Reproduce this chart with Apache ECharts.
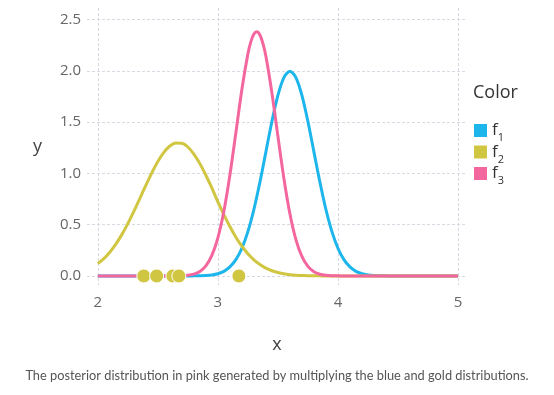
<!DOCTYPE html>
<html>
<head>
<meta charset="utf-8">
<script src="https://cdn.jsdelivr.net/npm/echarts@6/dist/echarts.min.js"></script>
<style>html,body{margin:0;padding:0;background:#fff;}#c{width:554px;height:395px;}</style>
</head>
<body>
<div id="c"></div>
<script>
const xs = [2.00,2.05,2.10,2.15,2.20,2.25,2.30,2.35,2.40,2.45,2.50,2.55,2.60,2.65,2.70,2.75,2.80,2.85,2.90,2.95,
  3.00,3.05,3.10,3.15,3.20,3.25,3.30,3.35,3.40,3.45,3.50,3.55,3.60,3.65,3.70,3.75,3.80,3.85,3.90,3.95,
  4.00,4.05,4.10,4.15,4.20,4.25,4.30,4.35,4.40,4.45,4.50,4.55,4.60,4.65,4.70,4.75,4.80,4.85,4.90,4.95,5.00];
const f1 = [0,0,0,0,0,0,0,0,0,0,0,0,0,0,0,0,0.001,0.002,0.004,0.010,
  0.022,0.045,0.088,0.159,0.270,0.432,0.648,0.913,1.210,1.506,1.761,1.934,1.995,1.934,1.761,1.506,1.210,0.913,0.648,0.432,
  0.270,0.159,0.088,0.045,0.022,0.010,0.004,0.002,0.001,0,0,0,0,0,0,0,0,0,0,0,0];
const f2 = [0.120,0.169,0.232,0.310,0.403,0.510,0.629,0.755,0.883,1.005,1.115,1.204,1.267,1.297,1.294,1.257,1.188,1.095,0.982,0.858,
  0.722,0.598,0.482,0.378,0.290,0.216,0.157,0.111,0.076,0.051,0.034,0.021,0.013,0.008,0.005,0.003,0.002,0.001,0,0,
  0,0,0,0,0,0,0,0,0,0,0,0,0,0,0,0,0,0,0,0,0];
const f3x = [2.00,2.05,2.10,2.15,2.20,2.25,2.30,2.35,2.40,2.45,2.50,2.55,2.60,2.65,2.70,2.75,2.80,2.85,2.90,2.95,
  3.00,3.05,3.10,3.15,3.20,3.25,3.275,3.30,3.325,3.35,3.375,3.40,3.45,3.50,3.55,3.60,3.65,3.70,3.75,3.80,3.85,3.90,3.95,
  4.00,4.05,4.10,4.15,4.20,4.25,4.30,4.35,4.40,4.45,4.50,4.55,4.60,4.65,4.70,4.75,4.80,4.85,4.90,4.95,5.00];
const f3 = [0,0,0,0,0,0,0,0,0,0,0,0,0,0.001,0.002,0.007,0.018,0.044,0.098,0.200,
  0.372,0.631,0.982,1.397,1.818,2.165,2.284,2.358,2.380,2.349,2.268,2.142,1.786,1.363,0.951,0.607,0.355,0.190,0.093,0.041,0.017,0.006,0.002,
  0.001,0,0,0,0,0,0,0,0,0,0,0,0,0,0,0,0,0,0,0,0];
const obsX = [2.383, 2.49, 2.625, 2.675, 3.175];
const obsY = [0, 0, 0, 0, 0];
const xTicks = [2, 3, 4, 5];
const yTicks = [0, 0.5, 1.0, 1.5, 2.0, 2.5];
const seriesNames = ['f1', 'f2', 'f3'];
const colors = ['#1cb6ec', '#d0c641', '#f4669e'];
const caption = 'The posterior distribution in pink generated by multiplying the blue and gold distributions.';

const zip = (a, b) => a.map((v, i) => [v, b[i]]);
const seriesData = [zip(xs, f1), zip(xs, f2), zip(f3x, f3)];

const chart = echarts.init(document.getElementById('c'), null, {renderer: 'canvas'});
const gridLine = {show: true, lineStyle: {color: '#d9d9e3', width: 1, type: [3, 2]}};
chart.setOption({
  animation: false,
  textStyle: {fontFamily: 'Open Sans'},
  grid: {left: 87, right: 87, top: 8, bottom: 110, containLabel: false},
  title: {text: 'Color', left: 473, top: 84, padding: 0,
    textStyle: {fontSize: 18, fontWeight: 'normal', color: '#333', fontFamily: 'Open Sans'}},
  legend: {
    data: seriesNames, orient: 'vertical', left: 474, top: 122, padding: 0, itemGap: 0,
    itemWidth: 13, itemHeight: 13, icon: 'rect',
    formatter: n => '{a|' + n.charAt(0) + '}{b|' + n.slice(1) + '}',
    textStyle: {rich: {
      a: {fontSize: 17, lineHeight: 26, color: '#333', fontFamily: 'Open Sans', verticalAlign: 'middle'},
      b: {fontSize: 11, lineHeight: 12, color: '#333', fontFamily: 'Open Sans', verticalAlign: 'bottom'}
    }}
  },
  xAxis: {
    type: 'value', min: 1.91, max: 5.075,
    name: 'x', nameLocation: 'middle', nameGap: 51,
    nameTextStyle: {fontSize: 18, color: '#444', fontFamily: 'Open Sans'},
    axisLine: {show: false},
    axisTick: {show: false, customValues: xTicks},
    axisLabel: {customValues: xTicks, margin: 10, fontSize: 15, color: '#666', formatter: v => String(v)},
    splitLine: gridLine
  },
  yAxis: {
    type: 'value', min: -0.088, max: 2.612,
    name: 'y', nameLocation: 'middle', nameGap: 45, nameRotate: 0,
    nameTextStyle: {fontSize: 18, color: '#444', fontFamily: 'Open Sans', padding: [16, 0, 0, 0]},
    axisLine: {show: false},
    axisTick: {show: false, customValues: yTicks},
    axisLabel: {customValues: yTicks, margin: 6, fontSize: 15, color: '#666', formatter: v => v.toFixed(1)},
    splitLine: gridLine
  },
  series: seriesNames.map((n, i) => ({
    name: n, type: 'line', data: seriesData[i], showSymbol: false, smooth: 0.3,
    lineStyle: {color: colors[i], width: 3}, itemStyle: {color: colors[i]}, z: 2 + i
  })).concat([{
    name: 'observations', type: 'scatter', data: zip(obsX, obsY), symbolSize: 14,
    itemStyle: {color: colors[1], opacity: 1, borderColor: '#fff', borderWidth: 1}, z: 10
  }]),
  graphic: [{
    type: 'text', left: 'center', top: 369,
    style: {text: caption, fontSize: 12.8, fill: '#555', fontFamily: 'Lato'}
  }]
});
</script>
</body>
</html>
